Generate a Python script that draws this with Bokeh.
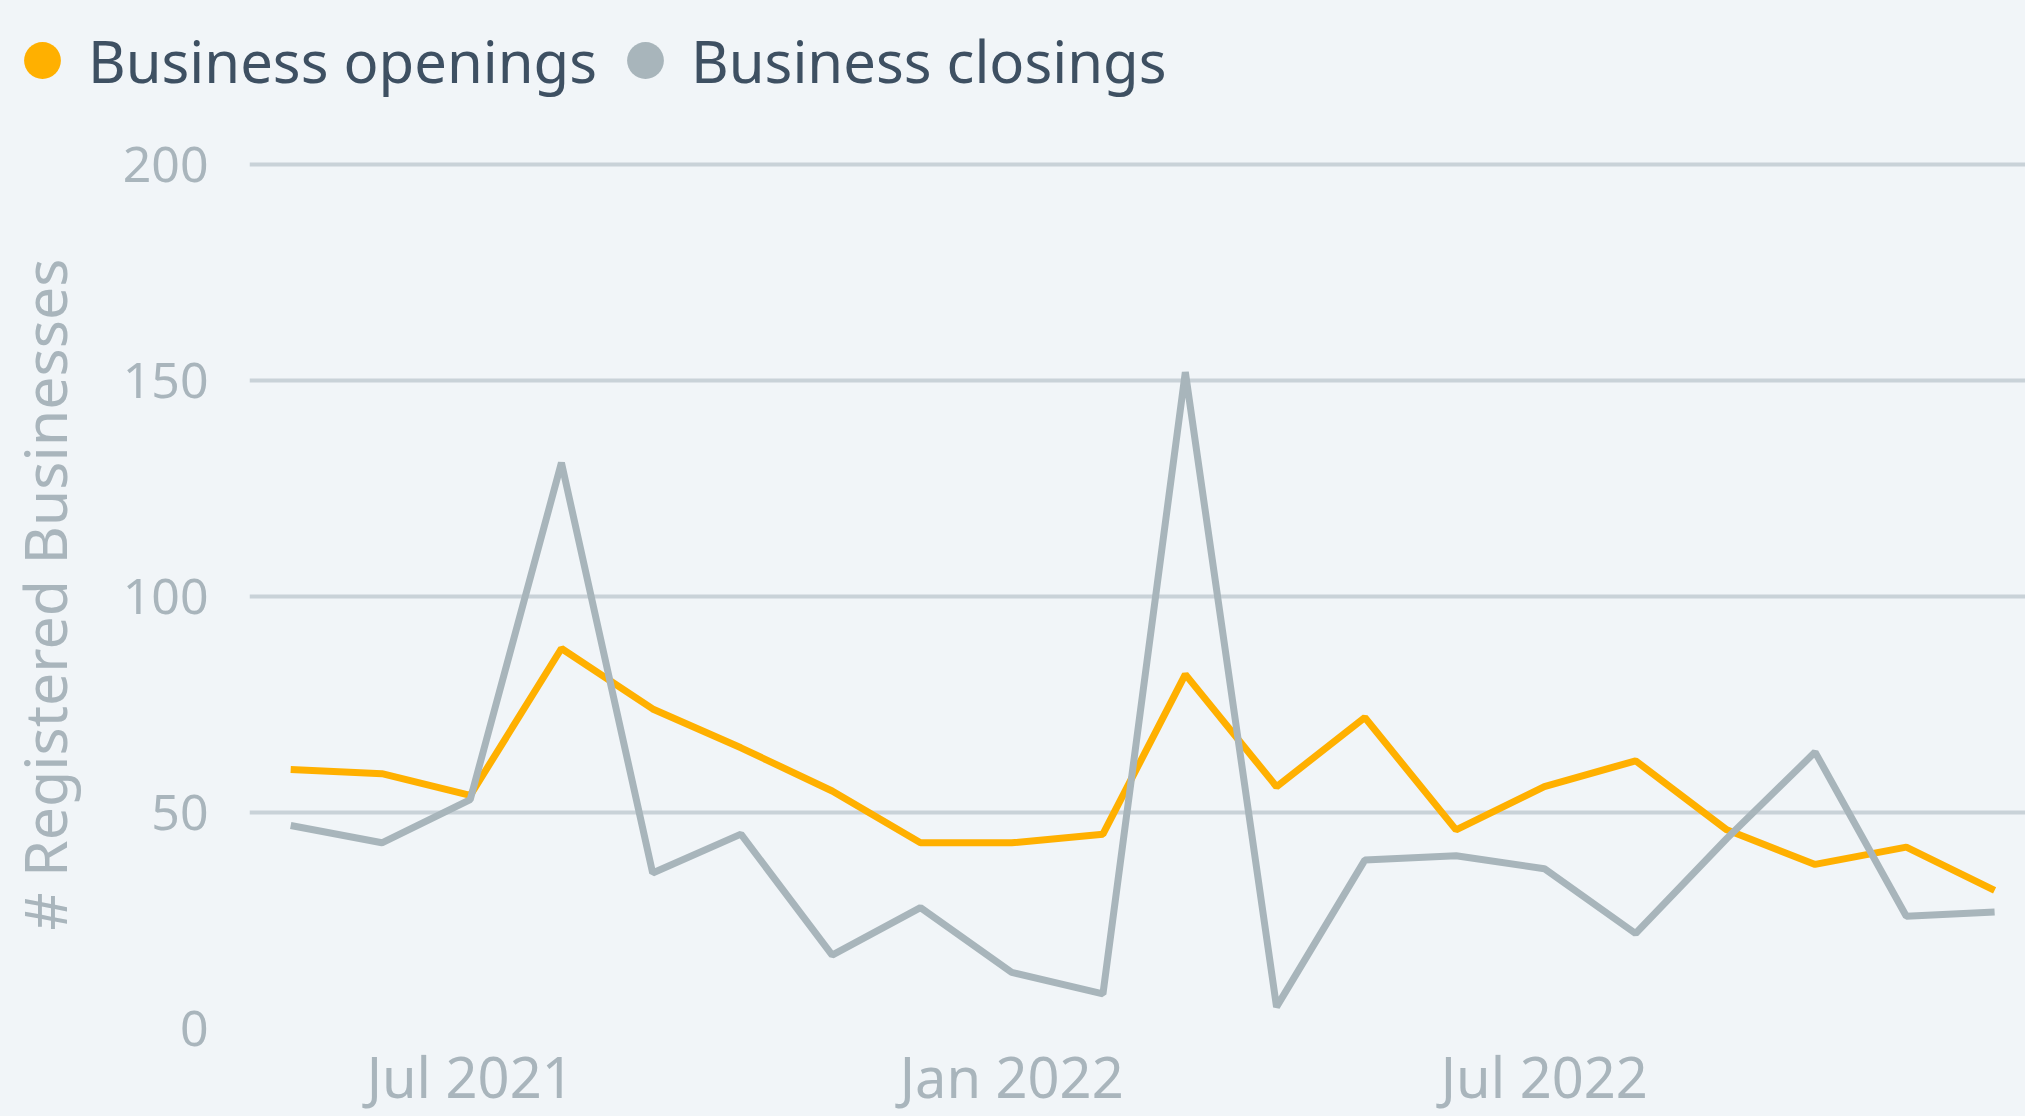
import pandas as pd
from bokeh.plotting import figure
from bokeh.layouts import column
from bokeh.models import (Range1d, FixedTicker, DatetimeTickFormatter, Legend,
                          LegendItem, ColumnDataSource)
from bokeh.embed import file_html
from bokeh.resources import INLINE

# ---- data ----
months = ["2021-05", "2021-06", "2021-07", "2021-08", "2021-09", "2021-10",
          "2021-11", "2021-12", "2022-01", "2022-02", "2022-03", "2022-04",
          "2022-05", "2022-06", "2022-07", "2022-08", "2022-09", "2022-10",
          "2022-11", "2022-12"]
openings = [60, 59, 54, 88, 74, 65, 55, 43, 43, 45, 82, 56, 72, 46, 56, 62,
            46, 38, 42, 32]
closings = [47, 43, 53, 131, 36, 45, 17, 28, 13, 8, 152, 5, 39, 40, 37, 22,
            44, 64, 26, 27]
x_tick_months = ["2021-07", "2022-01", "2022-07"]
y_ticks = [0, 50, 100, 150, 200]
series_names = ["Business openings", "Business closings"]
y_label = "# Registered Businesses"

# ---- style ----
BG = "#F1F5F8"
ORANGE = "#FFB000"
GREY = "#A8B5BB"
GRID = "#C9D2D8"
TEXT = "#3E5062"
TICK = "#A9B5BC"
FONT = "Noto Sans"

W = 2025
LEG_H = 120
MAIN_H = 1116 - LEG_H

dates = pd.to_datetime(months)
src = ColumnDataSource(dict(month=dates, openings=openings, closings=closings))

x_range = Range1d(dates[0] - pd.Timedelta(days=14),
                  dates[-1] + pd.Timedelta(days=10.5))
y_range = Range1d(0, 201)

# ---------------- main chart ----------------
p = figure(width=W, height=MAIN_H, x_axis_type="datetime",
           output_backend="svg", toolbar_location=None,
           x_range=x_range, y_range=y_range,
           min_border_left=249, min_border_right=0, min_border_top=40,
           min_border_bottom=85)
p.background_fill_alpha = 0
p.border_fill_color = BG
p.outline_line_color = None

p.xgrid.visible = False
p.ygrid.grid_line_color = GRID
p.ygrid.grid_line_width = 4
p.ygrid.ticker = FixedTicker(ticks=y_ticks)

p.yaxis.ticker = FixedTicker(ticks=y_ticks)
p.yaxis.axis_line_color = None
p.yaxis.major_tick_line_color = None
p.yaxis.minor_tick_line_color = None
p.yaxis.major_tick_out = 0
p.yaxis.minor_tick_out = 0
p.yaxis.major_label_standoff = 41
p.yaxis.major_label_text_font = FONT
p.yaxis.major_label_text_font_size = "50px"
p.yaxis.major_label_text_color = TICK
p.yaxis.axis_label = y_label
p.yaxis.axis_label_text_font = FONT
p.yaxis.axis_label_text_font_size = "59px"
p.yaxis.axis_label_text_font_style = "normal"
p.yaxis.axis_label_text_color = TICK
p.yaxis.axis_label_standoff = 36

tick_ms = [int(t.value // 10**6) for t in pd.to_datetime(x_tick_months)]
p.xaxis.ticker = FixedTicker(ticks=tick_ms)
fmt = "%b %Y"
p.xaxis.formatter = DatetimeTickFormatter(
    microseconds=fmt, milliseconds=fmt, seconds=fmt, minsec=fmt, minutes=fmt,
    hourmin=fmt, hours=fmt, days=fmt, months=fmt, years=fmt)
p.xaxis.axis_line_color = None
p.xaxis.major_tick_line_color = None
p.xaxis.minor_tick_line_color = None
p.xaxis.major_tick_out = 0
p.xaxis.minor_tick_out = 0
p.xaxis.major_label_standoff = 9
p.xaxis.major_label_text_font = FONT
p.xaxis.major_label_text_font_size = "56px"
p.xaxis.major_label_text_color = TICK

p.line(x="month", y="openings", source=src, line_color=ORANGE, line_width=7)
p.line(x="month", y="closings", source=src, line_color=GREY, line_width=7)

# ---------------- legend strip ----------------
lg = figure(width=W, height=LEG_H, x_axis_type="datetime",
            output_backend="svg", toolbar_location=None,
            x_range=x_range, y_range=y_range, min_border=0)
lg.frame_align = False
lg.background_fill_alpha = 0
lg.border_fill_color = BG
lg.outline_line_color = None
lg.axis.visible = False
lg.grid.visible = False

# zero-size markers: only their legend glyphs are seen
r_open = lg.scatter(x="month", y="openings", source=src, size=0,
                    marker="circle", fill_color=ORANGE, line_color=None)
r_close = lg.scatter(x="month", y="closings", source=src, size=0,
                     marker="circle", fill_color=GREY, line_color=None)

legend = Legend(items=[LegendItem(label=series_names[0], renderers=[r_open]),
                       LegendItem(label=series_names[1], renderers=[r_close])],
                orientation="horizontal", location=(-4, 13),
                glyph_width=92, glyph_height=94, label_standoff=0,
                spacing=2, padding=0, margin=0,
                border_line_color=None, background_fill_alpha=0,
                label_text_font=FONT, label_text_font_size="58px",
                label_text_color=TEXT)
lg.add_layout(legend)

layout = column(lg, p, spacing=0, styles={"background-color": BG})
open("out.html", "w").write(file_html(layout, INLINE))
